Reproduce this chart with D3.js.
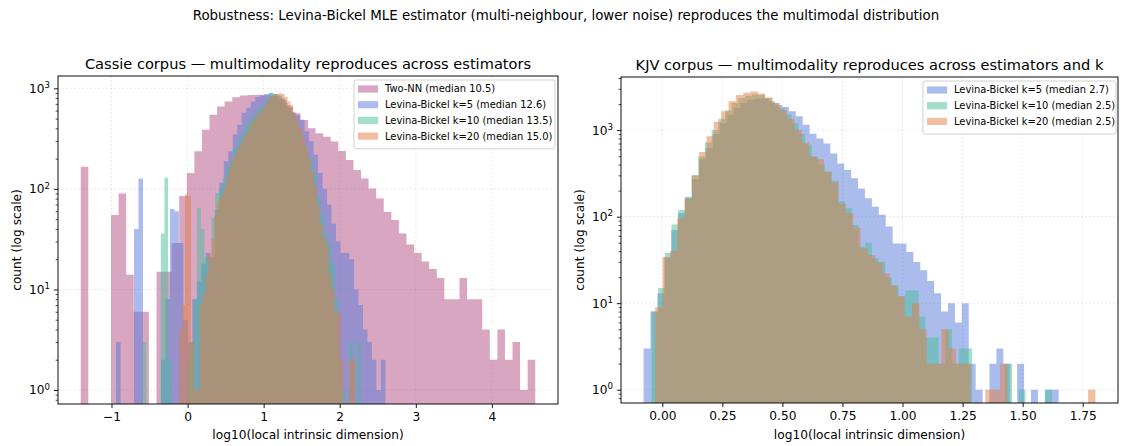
<!DOCTYPE html>
<html><head><meta charset="utf-8">
<script src="https://cdn.jsdelivr.net/npm/d3@7"></script>
<style>
body{margin:0;background:#fff;}
svg{display:block;font-family:"DejaVu Sans",sans-serif;}
</style></head><body>
<svg id="c" width="1126" height="446"></svg>
<script>
// ---------- DATA ----------
const suptitle = "Robustness: Levina-Bickel MLE estimator (multi-neighbour, lower noise) reproduces the multimodal distribution";
const leftTitle = "Cassie corpus — multimodality reproduces across estimators";
const rightTitle = "KJV corpus — multimodality reproduces across estimators and k";
const xLabel = "log10(local intrinsic dimension)";
const yLabel = "count (log scale)";

const leftXTicks = [-1, 0, 1, 2, 3, 4];
const rightXTicks = [0, 0.25, 0.5, 0.75, 1.0, 1.25, 1.5, 1.75];
const yMajorTicks = [1, 10, 100, 1000];

const cassieLabels = ["Two-NN (median 10.5)", "Levina-Bickel k=5 (median 12.6)", "Levina-Bickel k=10 (median 13.5)", "Levina-Bickel k=20 (median 15.0)"];
const kjvLabels = ["Levina-Bickel k=5 (median 2.7)", "Levina-Bickel k=10 (median 2.5)", "Levina-Bickel k=20 (median 2.5)"];

// each histogram: 60 bins spanning [min, max] of log10 values
const cassieTwoNNRange = [-1.404, 4.57];
const cassieTwoNNCounts = [166,0,0,0,55,90,14,6,6,0,
  15,15,29,85,144,237,388,547,660,740,
  815,850,860,865,860,840,780,680,564,484,
  400,357,330,295,238,194,154,127,101,80,
  59,49,36,28,23,19,16,13,8,8,
  13,8,8,4,2,4,2,3,1,2];
const cassieLB5Range = [-0.94, 2.60];
const cassieLB5Counts = [3,0,0,0,40,127,0,0,0,0,
  2,8,63,60,29,5,3,8,12,18,
  23,21,62,115,188,237,347,435,570,640,
  740,820,850,880,900,880,840,760,640,580,
  540,488,374,298,219,144,100,70,45,30,
  23,23,20,10,7,4,3,2,1,2];
const cassieLB10Range = [-0.59, 2.27];
const cassieLB10Counts = [3,0,0,0,0,36,129,2,0,0,
  0,0,2,3,8,65,40,21,20,52,
  91,102,128,168,195,255,300,347,420,470,
  530,590,640,690,800,900,880,860,800,720,
  640,560,460,360,280,230,200,144,85,55,
  36,29,18,8,2,1,0,3,0,3];
const cassieLB20Range = [-0.11, 2.20];
const cassieLB20Counts = [4,7,88,85,3,1,1,7,9,14,
  22,32,55,75,85,100,130,165,200,225,
  260,290,340,370,440,470,530,570,610,680,
  760,820,860,880,900,880,820,740,650,560,
  470,400,330,260,200,150,110,70,45,33,
  28,14,10,6,6,2,0,0,2,2];

const kjvLB5Range = [-0.078, 1.65];
const kjvLB5Counts = [3,8,13,34,70,110,165,270,460,620,
  900,1200,1500,1800,2050,2250,2300,2300,2150,1950,
  1850,1650,1450,1150,910,801,702,537,412,345,
  277,212,163,130,105,77,49,49,39,30,
  24,18,13,8,10,6,10,2,1,0,
  2,3,2,0,2,0,1,0,1,1];
const kjvLB10Range = [-0.045, 1.623];
const kjvLB10Counts = [8,15,38,81,119,170,300,500,720,1000,
  1350,1700,2050,2350,2500,2600,2550,2350,2050,1800,
  1500,1200,900,680,490,400,330,260,150,125,
  80,45,50,33,30,20,16,12,14,14,
  7,4,4,2,5,2,3,3,0,0,
  0,0,0,2,0,1,0,0,0,1];
const kjvLB20Range = [-0.03, 1.803];
const kjvLB20Counts = [9,34,40,95,160,300,560,850,1250,1650,
  2150,2550,2700,2800,2650,2380,2050,1700,1350,1000,
  720,500,460,330,250,140,110,75,43,36,
  30,22,16,12,7,10,5,2,2,5,
  3,2,2,0,0,1,1,2,0,0,
  0,0,0,0,0,0,0,0,0,1];

// ---------- STYLE ----------
const colPink = "#b14d83", colBlue = "#5579d9", colGreen = "#47bb99", colOrange = "#e17d41";
const alpha = 0.5;
const fsTick = "12.2px", fsLabel = "12.2px", fsTitle = "14.6px", fsSup = "13.4px", fsLeg = "9.9px";

const svg = d3.select("#c");

svg.append("text").attr("x", 566).attr("y", 20).attr("text-anchor", "middle")
  .attr("font-size", fsSup).attr("fill", "#000").text(suptitle);

function drawPanel(o) {
  const x = d3.scaleLinear().domain(o.xDomain).range([o.left, o.right]);
  const y = d3.scaleLog().domain(o.yDomain).range([o.bottom, o.top]);
  const g = svg.append("g");
  const clipId = "clip" + o.id;
  svg.append("clipPath").attr("id", clipId).append("rect")
    .attr("x", o.left).attr("y", o.top).attr("width", o.right - o.left).attr("height", o.bottom - o.top);

  // grid
  const grid = g.append("g").attr("stroke", "#b0b0b0").attr("stroke-opacity", 0.35)
    .attr("stroke-width", 0.8).attr("stroke-dasharray", "2,2");
  o.xTicks.forEach(t => grid.append("line").attr("x1", x(t)).attr("x2", x(t)).attr("y1", o.top).attr("y2", o.bottom));
  yMajorTicks.forEach(t => grid.append("line").attr("y1", y(t)).attr("y2", y(t)).attr("x1", o.left).attr("x2", o.right));

  // histograms
  const area = d3.area().curve(d3.curveStepAfter)
    .x(d => x(d.x)).y0(o.bottom).y1(d => d.c > 0 ? y(d.c) : o.bottom + 2);
  const hg = g.append("g").attr("clip-path", `url(#${clipId})`);
  o.series.forEach(s => {
    const n = s.counts.length;
    const w = (s.range[1] - s.range[0]) / n;
    const pts = s.counts.map((c, i) => ({x: s.range[0] + i * w, c}));
    pts.push({x: s.range[1], c: s.counts[n - 1]});
    hg.append("path").attr("d", area(pts)).attr("fill", s.color).attr("fill-opacity", alpha);
  });

  // axes
  const xAxis = d3.axisBottom(x).tickValues(o.xTicks).tickFormat(o.xFmt).tickSizeInner(4.1).tickSizeOuter(0).tickPadding(4);
  const xg = g.append("g").attr("transform", `translate(0,${o.bottom})`).call(xAxis);
  xg.select(".domain").remove();
  xg.selectAll("text").attr("font-size", fsTick).attr("font-family", "DejaVu Sans").attr("fill", "#000");
  xg.selectAll("line").attr("stroke", "#000").attr("stroke-width", 0.9);

  const minor = [];
  for (let e = -1; e <= 4; e++) for (let m = 2; m <= 9; m++) {
    const v = m * Math.pow(10, e);
    if (v >= o.yDomain[0] && v <= o.yDomain[1]) minor.push(v);
  }
  const yMinor = d3.axisLeft(y).tickValues(minor).tickFormat("").tickSizeInner(2.4).tickSizeOuter(0);
  const ymg = g.append("g").attr("transform", `translate(${o.left},0)`).call(yMinor);
  ymg.select(".domain").remove();
  ymg.selectAll("line").attr("stroke", "#000").attr("stroke-width", 0.7);

  const yAxis = d3.axisLeft(y).tickValues(yMajorTicks).tickFormat(d => Math.round(Math.log10(d))).tickSizeInner(4.1).tickSizeOuter(0).tickPadding(4);
  const yg = g.append("g").attr("transform", `translate(${o.left},0)`).call(yAxis);
  yg.select(".domain").remove();
  yg.selectAll("line").attr("stroke", "#000").attr("stroke-width", 0.9);
  yg.selectAll("text").each(function() {
    const t = d3.select(this);
    const e = t.text();
    t.text("").attr("font-size", fsTick).attr("font-family", "DejaVu Sans").attr("fill", "#000");
    t.append("tspan").text("10");
    t.append("tspan").attr("font-size", "8.6px").attr("dy", "-0.55em").text(e);
  });

  // frame
  g.append("rect").attr("x", o.left).attr("y", o.top).attr("width", o.right - o.left).attr("height", o.bottom - o.top)
    .attr("fill", "none").attr("stroke", "#000").attr("stroke-width", 0.95);

  // titles
  g.append("text").attr("x", (o.left + o.right) / 2).attr("y", o.top - 7).attr("text-anchor", "middle")
    .attr("font-size", fsTitle).attr("fill", "#000").text(o.title);
  g.append("text").attr("x", (o.left + o.right) / 2).attr("y", 439).attr("text-anchor", "middle")
    .attr("font-size", fsLabel).attr("fill", "#000").text(xLabel);
  g.append("text").attr("transform", `translate(${o.ylabX},${(o.top + o.bottom) / 2}) rotate(-90)`)
    .attr("text-anchor", "middle").attr("font-size", fsLabel).attr("fill", "#000").text(yLabel);

  // legend
  const lg = g.append("g");
  const rowH = 15.7;
  lg.append("rect").attr("x", o.legX).attr("y", o.top + 4).attr("width", o.legW).attr("height", o.series.length * rowH + 6)
    .attr("rx", 2.5).attr("fill", "#fff").attr("fill-opacity", 0.8).attr("stroke", "#cccccc").attr("stroke-width", 0.9);
  o.series.forEach((s, i) => {
    const cy = o.top + 13 + i * rowH;
    lg.append("rect").attr("x", o.legX + 4).attr("y", cy - 3.6).attr("width", 20).attr("height", 7.2)
      .attr("fill", s.color).attr("fill-opacity", alpha);
    lg.append("text").attr("x", o.legX + 31).attr("y", cy).attr("dy", "0.35em")
      .attr("font-size", fsLeg).attr("fill", "#000").text(s.label);
  });
}

drawPanel({
  id: "L", left: 58, right: 558, top: 76, bottom: 404,
  xDomain: [-1.703, 4.869], yDomain: [0.726, 1325],
  xTicks: leftXTicks, xFmt: d => d < 0 ? "\u2212" + Math.abs(d) : String(d),
  title: leftTitle, ylabX: 21, legX: 354, legW: 201,
  series: [
    {range: cassieTwoNNRange, counts: cassieTwoNNCounts, color: colPink, label: cassieLabels[0]},
    {range: cassieLB5Range, counts: cassieLB5Counts, color: colBlue, label: cassieLabels[1]},
    {range: cassieLB10Range, counts: cassieLB10Counts, color: colGreen, label: cassieLabels[2]},
    {range: cassieLB20Range, counts: cassieLB20Counts, color: colOrange, label: cassieLabels[3]}
  ]
});

drawPanel({
  id: "R", left: 621, right: 1118, top: 77, bottom: 403,
  xDomain: [-0.172, 1.897], yDomain: [0.7024, 4108],
  xTicks: rightXTicks, xFmt: d3.format(".2f"),
  title: rightTitle, ylabX: 584, legX: 923, legW: 193,
  series: [
    {range: kjvLB5Range, counts: kjvLB5Counts, color: colBlue, label: kjvLabels[0]},
    {range: kjvLB10Range, counts: kjvLB10Counts, color: colGreen, label: kjvLabels[1]},
    {range: kjvLB20Range, counts: kjvLB20Counts, color: colOrange, label: kjvLabels[2]}
  ]
});
</script>
</body></html>
